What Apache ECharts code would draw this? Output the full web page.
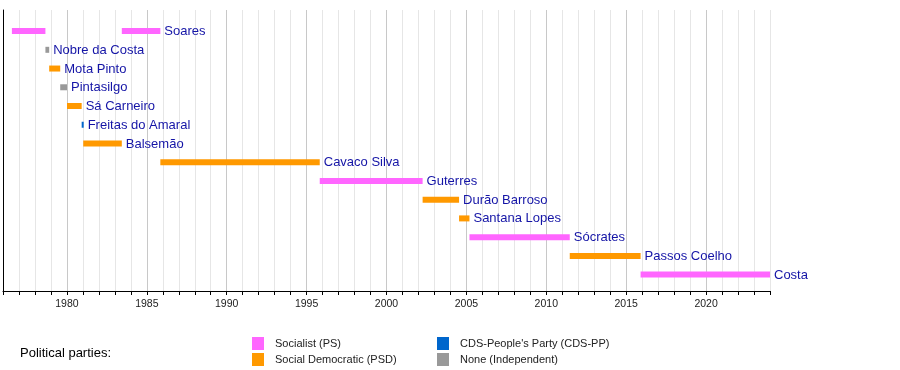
<!DOCTYPE html>
<html>
<head>
<meta charset="utf-8">
<script src="https://cdn.jsdelivr.net/npm/echarts@6/dist/echarts.min.js"></script>
<style>html,body{margin:0;padding:0;background:#fff}#c{width:900px;height:370px}</style>
</head>
<body>
<div id="c"></div>
<script>
// ---- data ----
const names  = ['Soares','Soares','Nobre da Costa','Mota Pinto','Pintasilgo','Sá Carneiro','Freitas do Amaral','Balsemão','Cavaco Silva','Guterres','Durão Barroso','Santana Lopes','Sócrates','Passos Coelho','Costa'];
const rows   = [0,0,1,2,3,4,5,6,7,8,9,10,11,12,13];
const starts = ['1976-07-23','1983-06-09','1978-08-28','1978-11-22','1979-08-01','1980-01-03','1980-12-04','1981-01-09','1985-11-06','1995-10-28','2002-04-06','2004-07-17','2005-03-12','2011-06-21','2015-11-26'];
const ends   = ['1978-08-28','1985-11-06','1978-11-22','1979-08-01','1980-01-03','1980-12-04','1981-01-09','1983-06-09','1995-10-28','2002-04-06','2004-07-17','2005-03-12','2011-06-21','2015-11-26','2024-01-01'];
const parties = ['PS','PS','None','PSD','None','PSD','CDS','PSD','PSD','PS','PSD','PSD','PS','PSD','PS'];
const partyKeys   = ['PS','PSD','CDS','None'];
const partyNames  = ['Socialist (PS)','Social Democratic (PSD)',"CDS-People's Party (CDS-PP)",'None (Independent)'];
const partyColors = ['#FF66FF','#FF9900','#0066CC','#999999'];
const yearMin = 1976, yearMax = 2024;

function toYear(s){
  const d = new Date(s+'T00:00:00Z');
  const y = d.getUTCFullYear();
  const a = Date.UTC(y,0,1), b = Date.UTC(y+1,0,1);
  return y + (d.getTime()-a)/(b-a);
}
// label only the last term of each name
function isLast(i){
  for(let j=i+1;j<names.length;j++) if(names[j]===names[i]) return false;
  return true;
}

const chart = echarts.init(document.getElementById('c'), null, {renderer:'canvas'});

const series = partyKeys.map((k, pi) => {
  const data = [];
  names.forEach((n,i)=>{
    if(parties[i]===k) data.push({value:[toYear(starts[i]), toYear(ends[i]), rows[i]], name:n, showLabel:isLast(i)});
  });
  return {
    type:'custom',
    name: partyNames[pi],
    color: partyColors[pi],
    data: data,
    encode:{x:[0,1], y:2},
    renderItem: function(params, api){
      const item = data[params.dataIndex];
      const s = api.coord([api.value(0), api.value(2)]);
      const e = api.coord([api.value(1), api.value(2)]);
      const h = 6;
      const w = Math.max(e[0]-s[0], 2);
      const children = [{
        type:'rect',
        shape:{x:s[0], y:s[1]-h/2, width:w, height:h},
        style:{fill: partyColors[pi]}
      }];
      if(item.showLabel){
        children.push({
          type:'text',
          style:{text:item.name, x:s[0]+w+4, y:s[1]+0.5, fill:'#1414a6',
                 font:'13px "Liberation Sans", Arial, sans-serif', align:'left', verticalAlign:'middle'}
        });
      }
      return {type:'group', children:children};
    }
  };
});

const legendText = {fontFamily:'"Liberation Sans Narrow", "Liberation Sans", Arial, sans-serif', fontSize:11, color:'#222', padding:[0,0,0,6]};
const legendPos = [[247,332],[247,348],[432,332],[432,348]];
const legends = partyNames.map((n,i)=>({
  data:[n], orient:'horizontal', left:legendPos[i][0], top:legendPos[i][1],
  itemWidth:12, itemHeight:13, icon:'rect', selectedMode:false, textStyle:legendText
}));

chart.setOption({
  animation:false,
  backgroundColor:'#fff',
  grid:{left:3, right:130, top:10, bottom:79, containLabel:false},
  xAxis:{
    type:'value', min:yearMin, max:yearMax, interval:1,
    axisLine:{show:true, onZero:false, lineStyle:{color:'#000', width:1}},
    axisTick:{show:true, length:4, lineStyle:{color:'#000'}},
    axisLabel:{show:true, margin:8, color:'#222', fontSize:10.5, fontFamily:'"Liberation Sans", Arial, sans-serif',
      formatter: v => (v%5===0 ? String(v) : '')},
    splitLine:{show:true, lineStyle:{color:['#e6e6e6','#e6e6e6','#e6e6e6','#e6e6e6','#c8c8c8'], width:1}}
  },
  yAxis:{
    type:'value', inverse:true, min:-1.125, max:13.875,
    axisLine:{show:true, onZero:false, lineStyle:{color:'#000'}},
    axisTick:{show:false}, axisLabel:{show:false}, splitLine:{show:false}
  },
  legend: legends,
  graphic:[{
    type:'text', left:20, top:347,
    style:{text:'Political parties:', fill:'#000', font:'13px "Liberation Sans", Arial, sans-serif'}
  }],
  series: series
});
</script>
</body>
</html>
